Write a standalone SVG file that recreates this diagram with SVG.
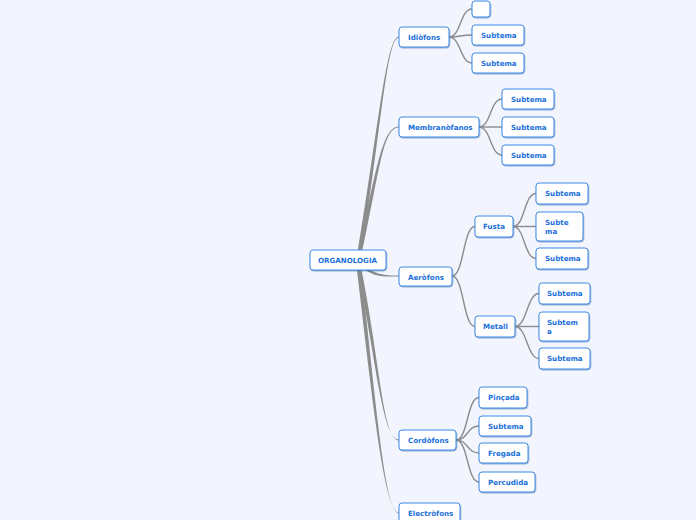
<svg xmlns="http://www.w3.org/2000/svg" width="696" height="520" viewBox="0 0 696 520">
<defs>
<filter id="sh" x="-10%" y="-20%" width="120%" height="150%">
<feDropShadow dx="0.6" dy="1" stdDeviation="0.5" flood-color="#1a4f9c" flood-opacity="0.45"/>
</filter>
<style>
.n rect{fill:#ffffff;stroke:#3f8ae6;stroke-width:1;filter:url(#sh)}
.n text{font-family:"DejaVu Sans",Verdana,sans-serif;font-weight:bold;font-size:7.1px;fill:#1a6fdc}
.t{fill:#8c8c8c;stroke:none}
.c{fill:none;stroke:#8c8c8c;stroke-width:1.4}
</style>
</defs>
<rect width="696" height="520" fill="#f2f5fd"/>
<g id="connectors">
<path class="t" d="M356,262 C379,125 386,36.6 399,36.6 L399,37.4 C386.5,37.4 382,125 360,262 Z"/>
<path class="t" d="M356,262 C376.5,170 382,126.6 399,126.6 L399,127.4 C382.5,127.4 380,170 360,262 Z"/>
<path class="t" d="M358,260.3 C372,275 385,275.6 399,275.6 L399,276.4 C385,276.4 372,278.5 358,263.7 Z"/>
<path class="t" d="M356,262 C376.5,360 382,439.6 399,439.6 L399,440.4 C382.5,440.4 380,360 360,262 Z"/>
<path class="t" d="M356,262 C372.5,400 384,512.6 399,512.6 L399,513.4 C384.5,513.4 376,400 360,262 Z"/>
<path class="c" d="M449,37 C461,37 460,9 472,9"/>
<path class="c" d="M449,37 C461,37 460,35 472,35"/>
<path class="c" d="M449,37 C461,37 460,63 472,63"/>
<path class="c" d="M479,127 C491,127 490,99 502,99"/>
<path class="c" d="M479,127 C491,127 490,127 502,127"/>
<path class="c" d="M479,127 C491,127 490,155 502,155"/>
<path class="c" d="M452,276 C464,276 463,226.5 475,226.5"/>
<path class="c" d="M452,276 C464,276 463,326.5 475,326.5"/>
<path class="c" d="M513,226.5 C525,226.5 524,193.5 536,193.5"/>
<path class="c" d="M513,226.5 C525,226.5 524,226.5 536,226.5"/>
<path class="c" d="M513,226.5 C525,226.5 524,258.5 536,258.5"/>
<path class="c" d="M515,326.5 C527,326.5 527,293.5 539,293.5"/>
<path class="c" d="M515,326.5 C527,326.5 527,326.5 539,326.5"/>
<path class="c" d="M515,326.5 C527,326.5 527,358.5 539,358.5"/>
<path class="c" d="M456,440 C468,440 467,397.5 479,397.5"/>
<path class="c" d="M456,440 C468,440 467,426 479,426"/>
<path class="c" d="M456,440 C468,440 467,453 479,453"/>
<path class="c" d="M456,440 C468,440 467,482 479,482"/>
</g>
<g id="root" class="n"><rect x="310" y="250" width="76" height="20" rx="3"/><text x="318" y="263">ORGANOLOGIA</text></g>
<g id="idiofons" class="n"><rect x="399" y="27" width="50" height="20" rx="3"/><text x="408" y="40">Idiòfons</text></g>
<g id="idio-empty" class="n"><rect x="472" y="1" width="18" height="16" rx="3"/></g>
<g id="idio-sub2" class="n"><rect x="472" y="25" width="52" height="20" rx="3"/><text x="481" y="38">Subtema</text></g>
<g id="idio-sub3" class="n"><rect x="472" y="53" width="52" height="20" rx="3"/><text x="481" y="66">Subtema</text></g>
<g id="membranofanos" class="n"><rect x="399" y="117" width="80" height="20" rx="3"/><text x="408" y="130">Membranòfanos</text></g>
<g id="memb-sub1" class="n"><rect x="502" y="89" width="52" height="20" rx="3"/><text x="511" y="102">Subtema</text></g>
<g id="memb-sub2" class="n"><rect x="502" y="117" width="52" height="20" rx="3"/><text x="511" y="130">Subtema</text></g>
<g id="memb-sub3" class="n"><rect x="502" y="145" width="52" height="20" rx="3"/><text x="511" y="158">Subtema</text></g>
<g id="aerofons" class="n"><rect x="399" y="267" width="53" height="19" rx="3"/><text x="408" y="279.5">Aeròfons</text></g>
<g id="fusta" class="n"><rect x="475" y="216" width="38" height="21" rx="3"/><text x="483" y="229">Fusta</text></g>
<g id="fusta-sub1" class="n"><rect x="536" y="183" width="52" height="21" rx="3"/><text x="545" y="196">Subtema</text></g>
<g id="fusta-sub2" class="n"><rect x="536" y="212" width="47" height="29" rx="3"/><text x="545" y="225">Subte</text><text x="545" y="233.7">ma</text></g>
<g id="fusta-sub3" class="n"><rect x="536" y="248" width="52" height="21" rx="3"/><text x="545" y="261">Subtema</text></g>
<g id="metall" class="n"><rect x="475" y="316" width="40" height="21" rx="3"/><text x="483" y="329">Metall</text></g>
<g id="metall-sub1" class="n"><rect x="539" y="283" width="51" height="21" rx="3"/><text x="547" y="296">Subtema</text></g>
<g id="metall-sub2" class="n"><rect x="539" y="312" width="50" height="29" rx="3"/><text x="547" y="325">Subtem</text><text x="547" y="333.7">a</text></g>
<g id="metall-sub3" class="n"><rect x="539" y="348" width="51" height="21" rx="3"/><text x="547" y="361">Subtema</text></g>
<g id="cordofons" class="n"><rect x="399" y="430" width="57" height="20" rx="3"/><text x="408" y="443">Cordòfons</text></g>
<g id="pincada" class="n"><rect x="479" y="387" width="48" height="21" rx="3"/><text x="488" y="400">Pinçada</text></g>
<g id="cord-sub" class="n"><rect x="479" y="416" width="52" height="20" rx="3"/><text x="488" y="429">Subtema</text></g>
<g id="fregada" class="n"><rect x="479" y="443" width="49" height="20" rx="3"/><text x="488" y="456">Fregada</text></g>
<g id="percudida" class="n"><rect x="479" y="472" width="56" height="20" rx="3"/><text x="488" y="485">Percudida</text></g>
<g id="electrofons" class="n"><rect x="399" y="503" width="61" height="20" rx="3"/><text x="408" y="516">Electròfons</text></g>
</svg>
